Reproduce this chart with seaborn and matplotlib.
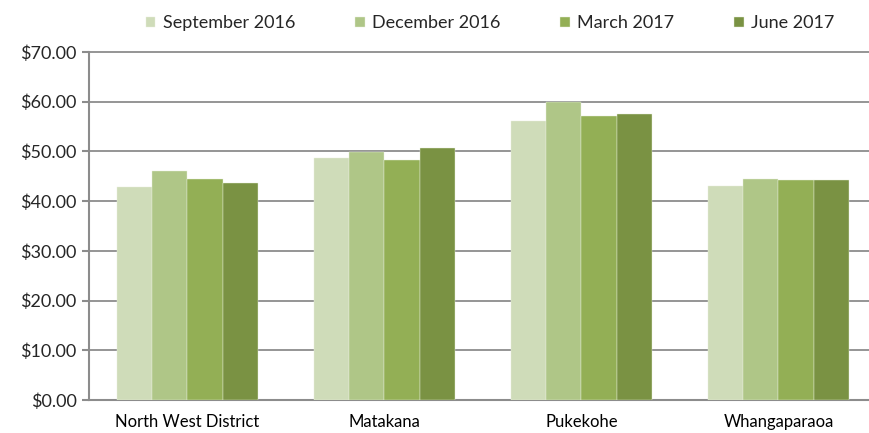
import matplotlib
matplotlib.use('Agg')
import matplotlib.pyplot as plt
import matplotlib.ticker as mticker
import pandas as pd
import seaborn as sns

districts = ['North West District', 'Matakana', 'Pukekohe', 'Whangaparaoa']
quarters = ['September 2016', 'December 2016', 'March 2017', 'June 2017']
sep_2016 = [42.9, 48.7, 56.1, 43.1]
dec_2016 = [46.1, 49.9, 60.0, 44.5]
mar_2017 = [44.5, 48.3, 57.1, 44.3]
jun_2017 = [43.7, 50.7, 57.5, 44.2]
colours = ['#CFDCB9', '#AFC687', '#93AF55', '#7A9243']

series = [sep_2016, dec_2016, mar_2017, jun_2017]
rows = []
for q, vals in zip(quarters, series):
    for d, v in zip(districts, vals):
        rows.append({'district': d, 'quarter': q, 'value': v})
df = pd.DataFrame(rows)

sns.set_style('white')
plt.rcParams['font.family'] = ['Lato', 'DejaVu Sans']

fig = plt.figure(figsize=(8.7, 4.33), dpi=100)
ax = fig.add_axes([0.1023, 0.0762, 0.9057, 0.8038])

sns.barplot(data=df, x='district', y='value', hue='quarter', order=districts,
            hue_order=quarters, palette=colours, width=0.72, saturation=1,
            edgecolor='#E8EFDC', linewidth=0.3, ax=ax, zorder=3)

grey = '#8C8C8C'
ax.set_ylim(0, 70)
ax.set_xlim(-0.5, 3.5)
ax.yaxis.set_major_locator(mticker.MultipleLocator(10))
ax.yaxis.set_major_formatter(mticker.FuncFormatter(lambda v, p: f'${v:.2f}'))
ax.grid(axis='y', color=grey, linewidth=1.3, zorder=0, clip_on=False)
ax.set_axisbelow(True)

for s in ['top', 'right']:
    ax.spines[s].set_visible(False)
for s in ['left', 'bottom']:
    ax.spines[s].set_color(grey)
    ax.spines[s].set_linewidth(1.5)

ax.set_xticks([-0.5, 0.5, 1.5, 2.5, 3.5], minor=True)
ax.tick_params(axis='x', which='major', length=0, pad=10, labelsize=12, colors='black')
ax.tick_params(axis='x', which='minor', length=5, width=1.5, color=grey, direction='out')
ax.tick_params(axis='y', length=5, width=1.5, color=grey, direction='out',
               labelsize=13, pad=4, left=True)
ax.set_xlabel('')
ax.set_ylabel('')

handles, labels = ax.get_legend_handles_labels()
ax.get_legend().remove()
fig.legend(handles, labels, loc='center', bbox_to_anchor=(0.563, 0.946), ncol=4,
           frameon=False, fontsize=13, handlelength=0.55, handleheight=0.55,
           handletextpad=0.4, columnspacing=3.3)

fig.savefig('out.png', dpi=100)
